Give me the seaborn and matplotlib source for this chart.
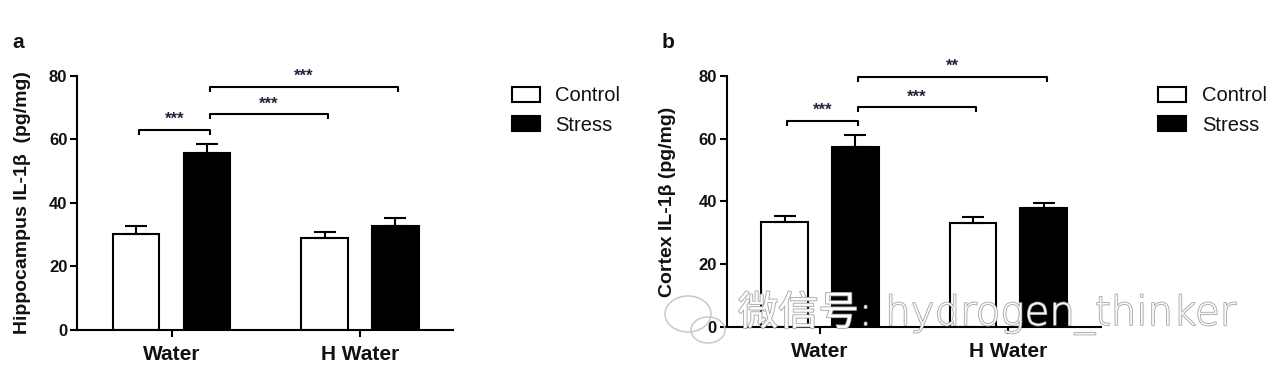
import numpy as np
import pandas as pd
import seaborn as sns
import matplotlib
import matplotlib.pyplot as plt
from matplotlib import patheffects
from matplotlib.patches import Patch, Ellipse
from matplotlib.transforms import IdentityTransform

# ---------------- data ----------------
groups = ["Water", "H Water"]
conditions = ["Control", "Stress"]

hippo_control = [30.3, 28.9]
hippo_control_sem = [2.3, 1.9]
hippo_stress = [55.7, 32.8]
hippo_stress_sem = [2.9, 2.5]

cortex_control = [33.6, 33.0]
cortex_control_sem = [1.8, 2.2]
cortex_stress = [57.3, 37.8]
cortex_stress_sem = [4.0, 1.8]

yticks = [0, 20, 40, 60, 80]

# significance brackets: (group, condition) index pairs
bracket_pairs = [((0, 0), (0, 1)), ((0, 1), (1, 0)), ((0, 1), (1, 1))]
hippo_bracket_y = [63.0, 67.9, 76.6]
hippo_bracket_labels = ["***", "***", "***"]
cortex_bracket_y = [65.8, 70.0, 79.8]
cortex_bracket_labels = ["***", "***", "**"]

colors = {"Control": "white", "Stress": "black"}

# ---------------- style ----------------
sns.set_style("ticks")
plt.rcParams["font.family"] = ["Liberation Sans", "DejaVu Sans"]
plt.rcParams["axes.linewidth"] = 1.5
TXT = "#111111"

fig = plt.figure(figsize=(12.8, 3.8), dpi=100)
ax_a = fig.add_axes([0.0602, 0.1316, 0.2937, 0.6684])
ax_b = fig.add_axes([0.5677, 0.1395, 0.2924, 0.6605])


def draw_panel(ax, control, control_sem, stress, stress_sem, ylabel,
               b_y, b_labels, xlim, legend_x, panel_letter, letter_x, labelpad):
    df = pd.DataFrame({
        "group": groups * 2,
        "condition": [conditions[0]] * len(groups) + [conditions[1]] * len(groups),
        "value": list(control) + list(stress),
    })
    sns.barplot(data=df, x="group", y="value", hue="condition",
                order=groups, hue_order=conditions, palette=colors,
                saturation=1, edgecolor="black", linewidth=1.5,
                width=0.75, gap=0.34, errorbar=None, ax=ax)
    if ax.get_legend() is not None:
        ax.get_legend().remove()

    centers = {}
    for ci, (cont, sems) in enumerate(zip(ax.containers, [control_sem, stress_sem])):
        xs = [b.get_x() + b.get_width() / 2 for b in cont]
        hs = [b.get_height() for b in cont]
        for gi, x in enumerate(xs):
            centers[(gi, ci)] = x
        ax.errorbar(xs, hs, yerr=[np.zeros(len(sems)), sems], fmt="none",
                    ecolor="black", elinewidth=1.5, capsize=8, capthick=1.5,
                    zorder=3)

    # brackets
    d = 1.6
    for (p1, p2), y, lab in zip(bracket_pairs, b_y, b_labels):
        x1 = centers[p1] + 0.015
        x2 = centers[p2] + 0.015
        ax.plot([x1, x1, x2, x2], [y - d, y, y, y - d], color="black",
                lw=1.5, clip_on=False, solid_capstyle="butt")
        ax.annotate(lab, xy=((x1 + x2) / 2, y), xytext=(0, 7.5),
                    textcoords="offset points", ha="center", va="center",
                    fontsize=12, fontweight="bold", color="#2a1f3d",
                    annotation_clip=False)

    ax.set_xlim(*xlim)
    ax.set_ylim(0, 80)
    ax.set_yticks(yticks)
    sns.despine(ax=ax)
    for s in ("left", "bottom"):
        ax.spines[s].set_linewidth(1.5)
        ax.spines[s].set_color("black")
    ax.tick_params(axis="y", length=5, width=1.5, labelsize=12, pad=2,
                   colors="black", labelcolor=TXT)
    ax.tick_params(axis="x", length=5, width=1.5, labelsize=15, pad=6,
                   colors="black", labelcolor=TXT)
    for lbl in ax.get_xticklabels() + ax.get_yticklabels():
        lbl.set_fontweight("bold")
    ax.set_xlabel("")
    ax.set_ylabel(ylabel, fontsize=14, fontweight="bold", color=TXT,
                  labelpad=labelpad)

    handles = [Patch(facecolor=colors[c], edgecolor="black", linewidth=1.5)
               for c in conditions]
    ax.legend(handles, conditions, loc="upper left",
              bbox_to_anchor=(legend_x, 0.7725), bbox_transform=fig.transFigure,
              frameon=False, fontsize=14.5, handlelength=1.39,
              handleheight=0.8, handletextpad=0.78, labelspacing=0.5,
              borderpad=0, borderaxespad=0, labelcolor=TXT)

    fig.text(letter_x, (380 - 48) / 380, panel_letter, fontsize=15,
             fontweight="bold", color=TXT, va="baseline", ha="left")


draw_panel(ax_a, hippo_control, hippo_control_sem, hippo_stress, hippo_stress_sem,
           "Hippocampus IL-1\u03b2  (pg/mg)", hippo_bracket_y, hippo_bracket_labels,
           (-0.501, 1.493), 511.7 / 1280, "a", 12.7 / 1280, 13)
draw_panel(ax_b, cortex_control, cortex_control_sem, cortex_stress, cortex_stress_sem,
           "Cortex IL-1\u03b2 (pg/mg)", cortex_bracket_y, cortex_bracket_labels,
           (-0.495, 1.491), 1158 / 1280, "b", 661.7 / 1280, 16)

# watermark
for (cx, cy, w, h) in [(688, 380 - 314, 46, 36), (708, 380 - 330, 34, 26)]:
    e = Ellipse((cx, cy), w, h, transform=IdentityTransform(), facecolor="none",
                edgecolor="#c8c8c8", lw=1.1)
    fig.add_artist(e)
fig.text(738 / 1280, (380 - 325) / 380, "\u5fae\u4fe1\u53f7: hydrogen_thinker",
         family=["DejaVu Sans", "Noto Sans CJK SC"], fontsize=29,
         fontweight="light", color="white", alpha=0.95, va="baseline", ha="left",
         path_effects=[patheffects.withStroke(linewidth=1.2, foreground="#a0a0a0")])

fig.savefig("out.png", dpi=100, facecolor="white")
